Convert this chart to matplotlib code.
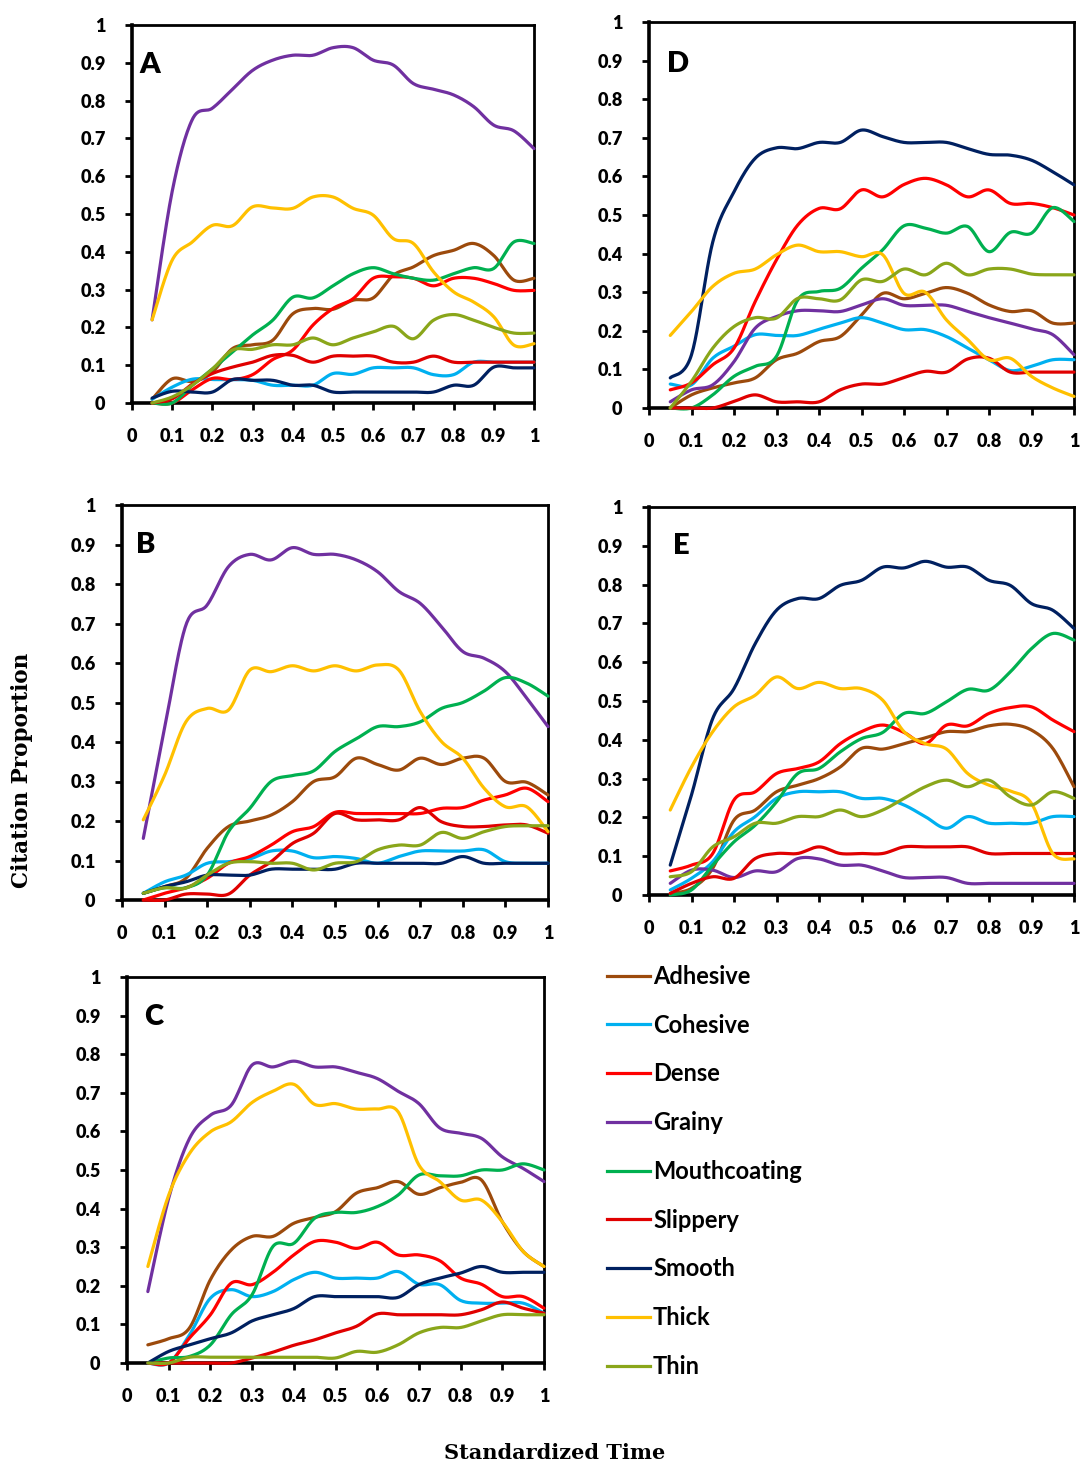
import numpy as np
import matplotlib
matplotlib.use("Agg")
import matplotlib.pyplot as plt
from matplotlib.lines import Line2D

# ---------------- data ----------------
time = [0.05, 0.10, 0.15, 0.20, 0.25, 0.30, 0.35, 0.40, 0.45, 0.50,
        0.55, 0.60, 0.65, 0.70, 0.75, 0.80, 0.85, 0.90, 0.95, 1.00]

attributes = ["Adhesive", "Cohesive", "Dense", "Grainy", "Mouthcoating",
              "Slippery", "Smooth", "Thick", "Thin"]

# Panel A
A_adhesive = [0.01, 0.064, 0.057, 0.082, 0.144, 0.154, 0.166, 0.236, 0.25, 0.248, 0.272, 0.278, 0.338, 0.36, 0.39, 0.404, 0.422, 0.39, 0.325, 0.33]
A_cohesive = [0.01, 0.042, 0.063, 0.062, 0.062, 0.06, 0.047, 0.047, 0.047, 0.078, 0.076, 0.093, 0.093, 0.093, 0.075, 0.075, 0.108, 0.108, 0.108, 0.108]
A_dense = [0.0, 0.0, 0.035, 0.065, 0.062, 0.075, 0.115, 0.14, 0.206, 0.25, 0.276, 0.33, 0.334, 0.33, 0.31, 0.33, 0.33, 0.316, 0.298, 0.298]
A_grainy = [0.22, 0.56, 0.75, 0.78, 0.83, 0.88, 0.907, 0.92, 0.92, 0.94, 0.94, 0.907, 0.894, 0.845, 0.83, 0.815, 0.784, 0.735, 0.72, 0.673]
A_mouthcoating = [0.0, 0.0, 0.047, 0.09, 0.135, 0.18, 0.219, 0.28, 0.278, 0.31, 0.342, 0.358, 0.342, 0.33, 0.325, 0.342, 0.358, 0.356, 0.426, 0.422]
A_slippery = [0.0, 0.011, 0.05, 0.078, 0.095, 0.108, 0.126, 0.126, 0.108, 0.124, 0.124, 0.124, 0.108, 0.108, 0.124, 0.108, 0.108, 0.108, 0.108, 0.108]
A_smooth = [0.013, 0.031, 0.029, 0.029, 0.062, 0.06, 0.06, 0.047, 0.047, 0.029, 0.029, 0.029, 0.029, 0.029, 0.029, 0.047, 0.047, 0.095, 0.093, 0.093]
A_thick = [0.22, 0.378, 0.426, 0.47, 0.469, 0.519, 0.516, 0.515, 0.545, 0.545, 0.515, 0.497, 0.435, 0.422, 0.347, 0.294, 0.267, 0.228, 0.153, 0.157]
A_thin = [0.0, 0.016, 0.047, 0.09, 0.14, 0.142, 0.154, 0.154, 0.172, 0.154, 0.172, 0.188, 0.203, 0.17, 0.219, 0.234, 0.219, 0.2, 0.185, 0.185]

# Panel B
B_adhesive = [0.017, 0.034, 0.055, 0.131, 0.186, 0.2, 0.215, 0.249, 0.3, 0.312, 0.359, 0.343, 0.329, 0.359, 0.343, 0.359, 0.359, 0.3, 0.298, 0.266]
B_cohesive = [0.017, 0.046, 0.063, 0.093, 0.097, 0.104, 0.124, 0.124, 0.107, 0.11, 0.105, 0.093, 0.11, 0.124, 0.124, 0.124, 0.127, 0.097, 0.093, 0.093]
B_dense = [0.0, 0.017, 0.031, 0.055, 0.093, 0.11, 0.139, 0.173, 0.186, 0.222, 0.219, 0.219, 0.219, 0.219, 0.232, 0.234, 0.253, 0.266, 0.283, 0.249]
B_grainy = [0.156, 0.435, 0.696, 0.747, 0.844, 0.875, 0.861, 0.892, 0.875, 0.875, 0.861, 0.831, 0.781, 0.751, 0.692, 0.629, 0.612, 0.578, 0.511, 0.439]
B_mouthcoating = [0.017, 0.031, 0.031, 0.063, 0.173, 0.232, 0.3, 0.315, 0.327, 0.376, 0.408, 0.439, 0.439, 0.451, 0.485, 0.5, 0.529, 0.563, 0.549, 0.516]
B_slippery = [0.0, 0.0, 0.015, 0.015, 0.015, 0.063, 0.097, 0.143, 0.169, 0.219, 0.203, 0.203, 0.203, 0.234, 0.198, 0.186, 0.186, 0.19, 0.19, 0.169]
B_smooth = [0.017, 0.034, 0.046, 0.063, 0.063, 0.063, 0.078, 0.078, 0.078, 0.078, 0.093, 0.093, 0.093, 0.093, 0.093, 0.11, 0.093, 0.093, 0.093, 0.093]
B_thick = [0.203, 0.316, 0.451, 0.485, 0.481, 0.582, 0.578, 0.593, 0.58, 0.593, 0.58, 0.595, 0.582, 0.477, 0.401, 0.359, 0.283, 0.236, 0.236, 0.173]
B_thin = [0.017, 0.031, 0.03, 0.063, 0.093, 0.097, 0.093, 0.093, 0.076, 0.093, 0.097, 0.127, 0.139, 0.139, 0.171, 0.156, 0.173, 0.186, 0.188, 0.188]

# Panel C
C_adhesive = [0.047, 0.063, 0.091, 0.216, 0.293, 0.328, 0.328, 0.362, 0.377, 0.392, 0.44, 0.454, 0.47, 0.437, 0.454, 0.468, 0.474, 0.366, 0.289, 0.25]
C_cohesive = [0.0, 0.0, 0.073, 0.168, 0.19, 0.172, 0.185, 0.216, 0.235, 0.22, 0.22, 0.22, 0.237, 0.204, 0.203, 0.162, 0.155, 0.155, 0.155, 0.129]
C_dense = [0.0, 0.0, 0.065, 0.125, 0.207, 0.203, 0.235, 0.28, 0.315, 0.313, 0.297, 0.313, 0.28, 0.28, 0.265, 0.22, 0.204, 0.172, 0.172, 0.142]
C_grainy = [0.185, 0.427, 0.582, 0.642, 0.668, 0.772, 0.767, 0.782, 0.767, 0.767, 0.753, 0.737, 0.704, 0.672, 0.609, 0.595, 0.582, 0.534, 0.504, 0.47]
C_mouthcoating = [0.0, 0.013, 0.017, 0.047, 0.125, 0.177, 0.302, 0.31, 0.375, 0.39, 0.39, 0.405, 0.435, 0.487, 0.485, 0.485, 0.5, 0.5, 0.516, 0.5]
C_slippery = [0.0, 0.0, 0.0, 0.0, 0.0, 0.013, 0.028, 0.046, 0.06, 0.078, 0.095, 0.127, 0.125, 0.125, 0.125, 0.125, 0.138, 0.158, 0.142, 0.129]
C_smooth = [0.0, 0.03, 0.047, 0.063, 0.078, 0.109, 0.125, 0.141, 0.172, 0.172, 0.172, 0.172, 0.17, 0.203, 0.22, 0.233, 0.25, 0.235, 0.235, 0.235]
C_thick = [0.25, 0.435, 0.543, 0.599, 0.625, 0.675, 0.704, 0.722, 0.67, 0.672, 0.658, 0.658, 0.651, 0.513, 0.47, 0.422, 0.422, 0.366, 0.289, 0.25]
C_thin = [0.0, 0.0, 0.015, 0.015, 0.015, 0.015, 0.015, 0.015, 0.015, 0.013, 0.03, 0.028, 0.047, 0.078, 0.092, 0.092, 0.109, 0.125, 0.125, 0.125]

# Panel D
D_adhesive = [0.0, 0.034, 0.052, 0.065, 0.078, 0.125, 0.142, 0.172, 0.185, 0.241, 0.297, 0.283, 0.297, 0.312, 0.297, 0.267, 0.25, 0.252, 0.22, 0.22]
D_cohesive = [0.062, 0.06, 0.129, 0.16, 0.19, 0.188, 0.188, 0.204, 0.22, 0.234, 0.22, 0.203, 0.203, 0.185, 0.155, 0.125, 0.097, 0.108, 0.125, 0.125]
D_dense = [0.047, 0.065, 0.112, 0.155, 0.276, 0.384, 0.474, 0.517, 0.516, 0.565, 0.547, 0.579, 0.595, 0.578, 0.547, 0.565, 0.53, 0.53, 0.519, 0.5]
D_grainy = [0.016, 0.047, 0.06, 0.12, 0.207, 0.237, 0.252, 0.252, 0.25, 0.267, 0.283, 0.266, 0.266, 0.266, 0.25, 0.234, 0.22, 0.205, 0.19, 0.138]
D_mouthcoating = [0.0, 0.0, 0.034, 0.082, 0.108, 0.134, 0.28, 0.302, 0.31, 0.362, 0.41, 0.472, 0.466, 0.453, 0.47, 0.405, 0.455, 0.453, 0.519, 0.483]
D_slippery = [0.0, 0.0, 0.0, 0.017, 0.034, 0.016, 0.016, 0.016, 0.047, 0.062, 0.062, 0.079, 0.095, 0.093, 0.127, 0.129, 0.093, 0.093, 0.093, 0.093]
D_smooth = [0.078, 0.138, 0.43, 0.56, 0.647, 0.674, 0.672, 0.688, 0.688, 0.72, 0.703, 0.688, 0.688, 0.688, 0.672, 0.657, 0.655, 0.642, 0.612, 0.578]
D_thick = [0.188, 0.25, 0.315, 0.349, 0.36, 0.397, 0.422, 0.405, 0.405, 0.392, 0.397, 0.297, 0.3, 0.228, 0.177, 0.125, 0.129, 0.082, 0.052, 0.03]
D_thin = [0.0, 0.069, 0.155, 0.211, 0.234, 0.233, 0.284, 0.283, 0.28, 0.332, 0.328, 0.36, 0.345, 0.375, 0.345, 0.36, 0.36, 0.347, 0.345, 0.345]

# Panel E
E_adhesive = [0.004, 0.017, 0.069, 0.193, 0.219, 0.266, 0.283, 0.3, 0.33, 0.378, 0.376, 0.39, 0.405, 0.421, 0.421, 0.436, 0.44, 0.425, 0.378, 0.279]
E_cohesive = [0.013, 0.043, 0.086, 0.163, 0.202, 0.249, 0.266, 0.266, 0.266, 0.249, 0.249, 0.232, 0.202, 0.172, 0.202, 0.185, 0.185, 0.185, 0.202, 0.202]
E_dense = [0.062, 0.077, 0.107, 0.245, 0.266, 0.313, 0.326, 0.343, 0.39, 0.421, 0.438, 0.419, 0.39, 0.438, 0.436, 0.468, 0.483, 0.485, 0.451, 0.421]
E_grainy = [0.03, 0.064, 0.064, 0.045, 0.062, 0.06, 0.094, 0.093, 0.077, 0.077, 0.062, 0.045, 0.045, 0.045, 0.03, 0.03, 0.03, 0.03, 0.03, 0.03]
E_mouthcoating = [0.0, 0.013, 0.077, 0.137, 0.18, 0.24, 0.313, 0.326, 0.369, 0.403, 0.419, 0.468, 0.468, 0.498, 0.53, 0.528, 0.575, 0.635, 0.674, 0.657]
E_slippery = [0.004, 0.03, 0.047, 0.043, 0.094, 0.107, 0.107, 0.124, 0.107, 0.107, 0.107, 0.124, 0.124, 0.124, 0.124, 0.107, 0.107, 0.107, 0.107, 0.107]
E_smooth = [0.077, 0.258, 0.455, 0.532, 0.648, 0.734, 0.764, 0.764, 0.798, 0.811, 0.845, 0.843, 0.86, 0.845, 0.845, 0.811, 0.798, 0.751, 0.734, 0.687]
E_thick = [0.219, 0.33, 0.421, 0.485, 0.515, 0.562, 0.532, 0.548, 0.532, 0.532, 0.502, 0.421, 0.39, 0.376, 0.313, 0.283, 0.268, 0.236, 0.107, 0.093]
E_thin = [0.047, 0.06, 0.124, 0.15, 0.185, 0.185, 0.202, 0.202, 0.219, 0.202, 0.219, 0.249, 0.279, 0.296, 0.279, 0.296, 0.253, 0.232, 0.266, 0.249]

panel_letters = ["A", "B", "C", "D", "E"]
x_ticks = [0, 0.1, 0.2, 0.3, 0.4, 0.5, 0.6, 0.7, 0.8, 0.9, 1]
x_tick_labels = ["0", "0.1", "0.2", "0.3", "0.4", "0.5", "0.6", "0.7", "0.8", "0.9", "1"]
y_ticks = x_ticks
y_tick_labels = x_tick_labels

panels = {
    "A": [A_adhesive, A_cohesive, A_dense, A_grainy, A_mouthcoating, A_slippery, A_smooth, A_thick, A_thin],
    "B": [B_adhesive, B_cohesive, B_dense, B_grainy, B_mouthcoating, B_slippery, B_smooth, B_thick, B_thin],
    "C": [C_adhesive, C_cohesive, C_dense, C_grainy, C_mouthcoating, C_slippery, C_smooth, C_thick, C_thin],
    "D": [D_adhesive, D_cohesive, D_dense, D_grainy, D_mouthcoating, D_slippery, D_smooth, D_thick, D_thin],
    "E": [E_adhesive, E_cohesive, E_dense, E_grainy, E_mouthcoating, E_slippery, E_smooth, E_thick, E_thin],
}

colors = ["#9C4A0C", "#00B0F0", "#FF0000", "#7030A0", "#00B050",
          "#E00000", "#002060", "#FFC000", "#8AA61A"]

# ---------------- layout ----------------
W, H = 1083, 1466
# pixel boxes: left, right, top, bottom
boxes = {
    "A": (132, 534, 25, 403),
    "D": (649, 1074, 22, 408),
    "B": (122, 548, 505, 900),
    "E": (649, 1074, 507, 895),
    "C": (127, 544, 977, 1363),
}
letter_pos = {"A": (0.018, 0.895), "B": (0.032, 0.9), "C": (0.04, 0.896),
              "D": (0.043, 0.89), "E": (0.057, 0.9)}

TICK_FONT = dict(family="Lato", weight="heavy", size=13)


def excel_smooth(x, y, n=24):
    """Excel-style smoothed line (Bezier with Catmull-Rom control points)."""
    P = np.column_stack([np.asarray(x, float), np.asarray(y, float)])
    Pe = np.vstack([P[0], P, P[-1]])
    segs = []
    t = np.linspace(0, 1, n, endpoint=False)[:, None]
    for i in range(len(P) - 1):
        p0, p1, p2, p3 = Pe[i], Pe[i + 1], Pe[i + 2], Pe[i + 3]
        c1 = p1 + (p2 - p0) / 6.0
        c2 = p2 - (p3 - p1) / 6.0
        b = ((1 - t) ** 3) * p1 + 3 * ((1 - t) ** 2) * t * c1 + 3 * (1 - t) * t ** 2 * c2 + t ** 3 * p2
        segs.append(b)
    segs.append(P[-1][None, :])
    out = np.vstack(segs)
    return out[:, 0], out[:, 1]


fig = plt.figure(figsize=(W / 100, H / 100), dpi=100)

for key, (l, r, t, b) in boxes.items():
    ax = fig.add_axes([l / W, (H - b) / H, (r - l) / W, (b - t) / H])
    for series, col in zip(panels[key], colors):
        xs, ys = excel_smooth(time, series)
        ax.plot(xs, ys, color=col, lw=2.3, solid_capstyle="round", clip_on=False, zorder=3)
    ax.set_xlim(0, 1)
    ax.set_ylim(0, 1)
    ax.set_xticks(x_ticks)
    ax.set_xticklabels(x_tick_labels, fontdict=TICK_FONT)
    ax.set_yticks(y_ticks)
    ax.set_yticklabels(y_tick_labels, fontdict=TICK_FONT)
    ax.tick_params(axis="both", direction="out", length=5, width=2, color="black")
    ax.tick_params(axis="x", pad=13)
    ax.tick_params(axis="y", pad=14)
    for side in ["left", "bottom"]:
        ax.spines[side].set_linewidth(2.6)
    for side in ["top", "right"]:
        ax.spines[side].set_linewidth(2.0)
    lx, ly = letter_pos[key]
    ax.text(lx, ly, key, transform=ax.transAxes, ha="left", va="center",
            family="Lato", weight="heavy", size=21)

# legend
handles = [Line2D([0], [0], color=c, lw=2.3) for c in colors]
fig.legend(handles, attributes, loc="upper left",
           bbox_to_anchor=(607 / W, 1 - 965 / H), frameon=False,
           prop=dict(family="Lato", weight="bold", size=17),
           handlelength=1.82, handletextpad=0.13, labelspacing=1.09,
           borderaxespad=0, borderpad=0)

fig.text(22 / W, 1 - 770 / H, "Citation Proportion", rotation=90, ha="center", va="center",
         family="DejaVu Serif", weight="bold", size=15.5)
fig.text(555 / W, 1 - 1453 / H, "Standardized Time", ha="center", va="center",
         family="DejaVu Serif", weight="bold", size=15)

fig.savefig("out.png", dpi=100, facecolor="white")
